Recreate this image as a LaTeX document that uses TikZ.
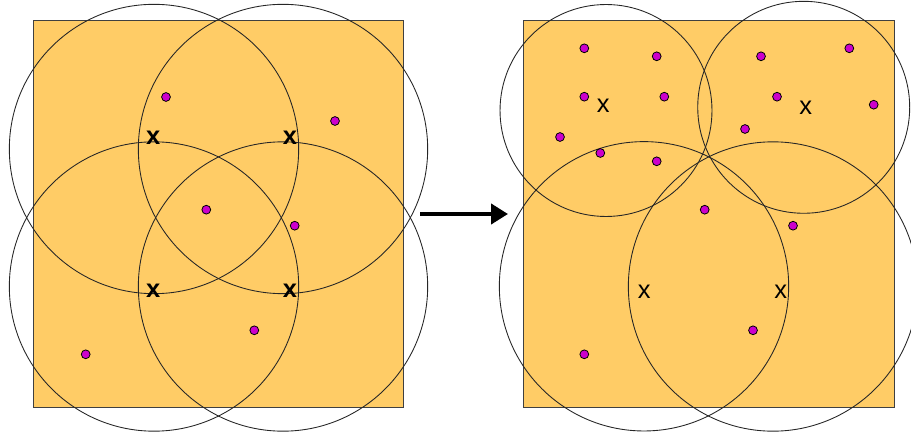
\documentclass[tikz,border=0pt]{standalone}
\usepackage{fontspec}
\setmainfont{Liberation Sans}
\usetikzlibrary{arrows.meta}
\definecolor{fieldbg}{HTML}{FFCC66}
\definecolor{sensmag}{HTML}{CC00CC}
\tikzset{
  field/.style={fill=fieldbg,draw=black!75,line width=0.5pt},
  reach/.style={draw=black!85,line width=0.5pt},
  sensor/.style={circle,fill=sensmag,draw=black,line width=0.45pt,inner sep=0pt,minimum size=5pt},
  head/.style={font=\fontsize{14.5}{15}\selectfont,inner sep=0pt},
  flow/.style={-{Triangle[length=9.6pt,width=11.3pt]},line width=2.3pt},
}
\begin{document}
\begin{tikzpicture}[x=0.02cm,y=-0.02cm]
  \useasboundingbox (0,0) rectangle (911,435);
  \def\rbig{2.894cm}
  \def\rsml{2.12cm}
  % ---- before: four equal ranges ----
  \draw[field] (33.3,20.3) rectangle (403.5,407);
  \foreach \cx/\cy in {154/149, 283/149, 154/286.5, 283/286.5}
    \draw[reach] (\cx,\cy) circle[radius=\rbig];
  \foreach \x/\y [count=\i] in {166/97, 335/121, 206.3/209.7, 294.7/225.7, 254.3/330.3, 85.7/354.3}
    \node[sensor] (l\i) at (\x,\y) {};
  \foreach \x/\y [count=\i] in {153.3/138, 290/138, 153.3/291, 290/291}
    \node[head,font=\fontsize{14.5}{15}\selectfont\bfseries] (lh\i) at (\x,\y) {x};
  % arrow between the two states
  \coordinate (from) at (420,214);
  \coordinate (to) at (508,214);
  \draw[flow] (from) -- (to);
  % ---- after: two small and two large ranges ----
  \draw[field] (523.7,20.3) rectangle (894,407);
  \foreach \cx/\cy in {606/110.5, 803.7/107.3}
    \draw[reach] (\cx,\cy) circle[radius=\rsml];
  \foreach \cx/\cy in {644/286.3, 773/286.5}
    \draw[reach] (\cx,\cy) circle[radius=\rbig];
  \foreach \x/\y [count=\i] in {584.3/48.3, 656.7/56.3, 584.3/96.7, 664.3/96.7,
      560/137, 600.3/153, 656.7/161.3, 761/56.3, 849.3/48.3, 777/96.7,
      873.7/104.7, 745/129, 704.7/209.7, 793/225.7, 753/330.3, 584.3/354.3}
    \node[sensor] (r\i) at (\x,\y) {};
  \foreach \x/\y [count=\i] in {603.3/105.7, 805.7/107.3, 644.3/291.3, 780.7/291.3}
    \node[head] (rh\i) at (\x,\y) {x};
\end{tikzpicture}
\end{document}
